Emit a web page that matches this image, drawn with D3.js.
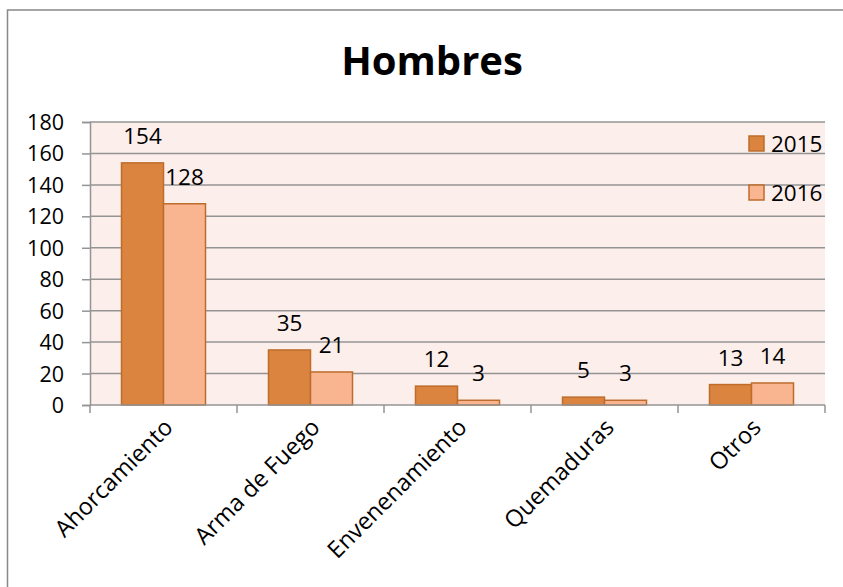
<!DOCTYPE html>
<html><head><meta charset="utf-8">
<script src="https://cdn.jsdelivr.net/npm/d3@7"></script>
<style>
html,body{margin:0;padding:0;background:#fff;}
svg{display:block;}
text{font-family:"Open Sans",sans-serif;fill:#000;}
</style></head>
<body>
<svg id="chart" width="843" height="587"></svg>
<script>
const categories = ["Ahorcamiento","Arma de Fuego","Envenenamiento","Quemaduras","Otros"];
const seriesNames = ["2015","2016"];
const values2015 = [154,35,12,5,13];
const values2016 = [128,21,3,3,14];
const yTicks = [0,20,40,60,80,100,120,140,160,180];
const title = "Hombres";

const colors = {"2015":"#DB843F","2016":"#F9B590"};
const strokeCol = "#BD6C2C";

const svg = d3.select("#chart");
// outer chart border
svg.append("rect").attr("x",7.5).attr("y",10).attr("width",900).attr("height",700)
  .attr("fill","#fff").attr("stroke","#888").attr("stroke-width",1.5);

const pLeft=90, pRight=825, pTop=122, pBottom=405;
const x = d3.scaleBand().domain(categories).range([pLeft,pRight]).paddingInner(0).paddingOuter(0);
const x1 = d3.scaleBand().domain(seriesNames).range([0,x.bandwidth()]).paddingInner(0).paddingOuter(0.75);
const y = d3.scaleLinear().domain([0,180]).range([pBottom,pTop]);

// plot background
svg.append("rect").attr("x",pLeft).attr("y",pTop).attr("width",pRight-pLeft).attr("height",pBottom-pTop)
  .attr("fill","#FCEEEA");

// gridlines
svg.append("g").selectAll("line").data(yTicks.filter(d=>d>0)).join("line")
  .attr("x1",pLeft).attr("x2",pRight).attr("y1",d=>y(d)).attr("y2",d=>y(d))
  .attr("stroke","#949494").attr("stroke-width",1.5);

// title
svg.append("text").attr("x",432).attr("y",75).attr("text-anchor","middle")
  .attr("font-size",40).attr("font-weight","bold").text(title);

// bars
const data = categories.map((c,i)=>({cat:c, vals:[{s:"2015",v:values2015[i]},{s:"2016",v:values2016[i]}]}));
const groups = svg.append("g").selectAll("g").data(data).join("g")
  .attr("transform",d=>`translate(${x(d.cat)},0)`);
groups.selectAll("rect").data(d=>d.vals).join("rect")
  .attr("x",d=>x1(d.s)).attr("width",x1.bandwidth())
  .attr("y",d=>y(d.v)).attr("height",d=>pBottom-y(d.v))
  .attr("fill",d=>colors[d.s]).attr("stroke",strokeCol).attr("stroke-width",1.5);
groups.selectAll("text").data(d=>d.vals).join("text")
  .attr("x",d=>x1(d.s)+x1.bandwidth()/2).attr("y",d=>y(d.v)-19)
  .attr("text-anchor","middle").attr("font-size",22.5).text(d=>d.v);

// y axis
const yAxis = d3.axisLeft(y).tickValues(yTicks).tickSize(8).tickPadding(18);
const gy = svg.append("g").attr("transform",`translate(${pLeft},0)`).call(yAxis);
gy.select(".domain").attr("stroke","#949494").attr("stroke-width",1.5);
gy.selectAll(".tick line").attr("stroke","#949494").attr("stroke-width",1.5);
gy.selectAll(".tick text").attr("font-size",21.5).attr("font-family","Open Sans").attr("fill","#000").attr("dy","0.35em").attr("x",-26);

// x axis
const gx = svg.append("g").attr("transform",`translate(0,${pBottom})`);
gx.append("line").attr("x1",pLeft).attr("x2",pRight).attr("y1",0).attr("y2",0)
  .attr("stroke","#949494").attr("stroke-width",1.5);
const tickPos = categories.map(c=>x(c)).concat([pRight]);
gx.selectAll("line.tk").data(tickPos).join("line").attr("class","tk")
  .attr("x1",d=>d).attr("x2",d=>d).attr("y1",0).attr("y2",8)
  .attr("stroke","#949494").attr("stroke-width",1.5);
gx.selectAll("text").data(categories).join("text")
  .attr("transform",d=>`translate(${x(d)+x.bandwidth()/2+5},${18}) rotate(-45)`)
  .attr("text-anchor","end").attr("dy","0.35em").attr("font-size",23.5).text(d=>d);

// legend
const legend = svg.append("g").selectAll("g").data(seriesNames).join("g")
  .attr("transform",(d,i)=>`translate(749,${136+i*49})`);
legend.append("rect").attr("width",15).attr("height",15)
  .attr("fill",d=>colors[d]).attr("stroke",strokeCol).attr("stroke-width",1.5);
legend.append("text").attr("x",22).attr("y",8).attr("dy","0.35em").attr("font-size",22.5).text(d=>d);
</script>
</body></html>
